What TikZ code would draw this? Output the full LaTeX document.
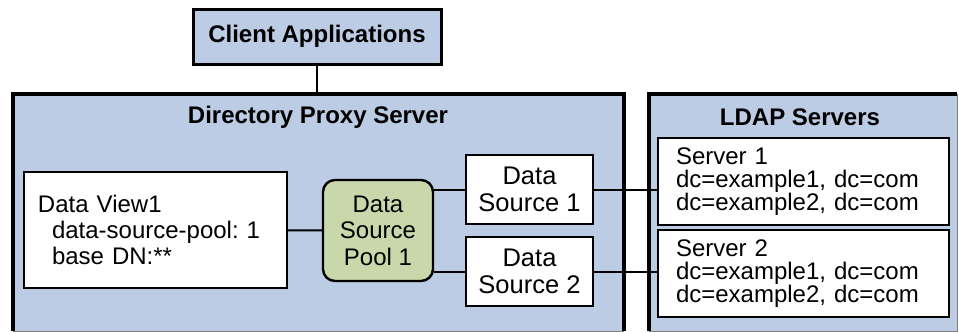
\documentclass[tikz,border=0pt]{standalone}
\usepackage{fontspec}
\setmainfont{Liberation Sans}
\usepackage{tikz}
\usetikzlibrary{positioning,calc}
\usepackage{xcolor}
\definecolor{panelblue}{RGB}{187,204,228}
\definecolor{poolgreen}{RGB}{200,216,170}
\frenchspacing

\begin{document}
\begin{tikzpicture}[x=0.5pt, y=-0.5pt,
    panel/.style={fill=panelblue, inner sep=0pt, outer sep=0pt, anchor=north west},
    title/.style={font=\fontsize{12}{13}\selectfont\bfseries},
    box/.style={draw=black, fill=white, line width=1pt, inner sep=0pt, align=center, font=\fontsize{12}{13.3}\selectfont},
    listbox/.style={draw=black, fill=white, line width=1pt, align=left, inner ysep=0pt},
    wire/.style={line width=1pt, black}
]
    \useasboundingbox (0,0) rectangle (959,332);

    % Outer panels
    \node[panel, minimum width=305.5pt, minimum height=118.5pt] (dps) at (13,94) {};
    \node[panel, minimum width=154pt, minimum height=118.5pt] (ldap) at (649,94) {};
    \draw[line width=1.8pt] (dps.south west) -- (dps.north west) -- (dps.north east) -- (dps.south east);
    \draw[line width=1.8pt] (ldap.south west) -- (ldap.north west) -- (ldap.north east);
    \draw[gray, line width=0.4pt] (dps.south west) -- (dps.south east);
    \draw[gray, line width=0.4pt] (ldap.south west) -- (ldap.south east) -- (ldap.north east);
    \node[title] (dpstitle) at (318,117) {Directory Proxy Server};
    \node[title] (ldaptitle) at (800,117) {LDAP Servers};

    % Client box
    \node[draw=black, fill=panelblue, line width=1.5pt, title, minimum width=124pt, minimum height=27.5pt] (client) at (317,36.5) {Client Applications};

    % Proxy contents
    \node[listbox, font=\fontsize{12}{13}\selectfont, inner xsep=7pt, text width=117.5pt, minimum height=58pt] (view) at (155.5,230)
        {Data View1\\\hspace*{7pt}data-source-pool: 1\\\hspace*{7pt}base DN:**};
    \node[box, fill=poolgreen, rounded corners=6pt, line width=1.2pt, minimum width=55pt, minimum height=50.5pt] (pool) at (378,230.5) {Data\\Source\\Pool 1};
    \node[box, font=\fontsize{12.75}{13.3}\selectfont, minimum width=63.5pt, minimum height=34.5pt] (src1) at (529.5,189.5) {Data\\Source 1};
    \node[box, font=\fontsize{12.75}{13.3}\selectfont, minimum width=63.5pt, minimum height=34.5pt] (src2) at (529.5,271.5) {Data\\Source 2};

    % LDAP servers
    \node[listbox, font=\fontsize{12}{11.5}\selectfont, inner xsep=9pt, text width=127.5pt, minimum height=43.5pt] (srv1) at (803.5,181.5)
        {Server 1\\dc=example1, dc=com\\dc=example2, dc=com};
    \node[listbox, font=\fontsize{12}{11.5}\selectfont, inner xsep=9pt, text width=127.5pt, minimum height=43.5pt] (srv2) at (803.5,273.5)
        {Server 2\\dc=example1, dc=com\\dc=example2, dc=com};

    % Connectors
    \draw[wire] (client) -- (client |- dps.north);
    \draw[wire] (view) -- (pool);
    \draw[wire] (src1.west -| pool.east) -- (src1.west);
    \draw[wire] (src2.west -| pool.east) -- (src2.west);
    \draw[wire] (src1.east) -- (src1.east -| srv1.west);
    \draw[wire] (src2.east) -- (src2.east -| srv2.west);
\end{tikzpicture}
\end{document}
